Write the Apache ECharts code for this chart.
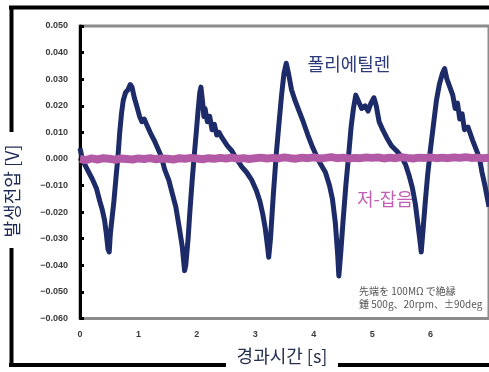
<!DOCTYPE html>
<html><head><meta charset="utf-8">
<script src="https://cdn.jsdelivr.net/npm/echarts@6/dist/echarts.min.js"></script>
<style>html,body{margin:0;padding:0;background:#fff}#c{width:489px;height:372px}</style>
</head><body><div id="c"></div>
<script>
// ---- data ----
const polyTime = [0.00,0.03,0.08,0.15,0.22,0.28,0.34,0.38,0.42,0.45,0.48,0.50,0.52,0.55,0.58,0.62,0.65,0.68,0.71,0.74,0.78,0.82,0.86,0.89,0.93,0.97,1.02,1.06,1.10,1.14,1.20,1.27,1.33,1.39,1.45,1.52,1.58,1.64,1.70,1.75,1.79,1.81,1.85,1.88,1.92,1.95,1.99,2.02,2.05,2.07,2.10,2.12,2.14,2.18,2.22,2.26,2.30,2.34,2.38,2.43,2.52,2.60,2.68,2.77,2.85,2.94,3.02,3.08,3.13,3.17,3.21,3.23,3.26,3.31,3.36,3.40,3.45,3.49,3.53,3.57,3.62,3.68,3.75,3.82,3.90,3.97,4.05,4.12,4.20,4.27,4.32,4.37,4.41,4.43,4.46,4.50,4.55,4.60,4.64,4.68,4.72,4.76,4.82,4.88,4.93,4.98,5.03,5.07,5.12,5.18,5.25,5.33,5.42,5.50,5.57,5.63,5.69,5.74,5.78,5.82,5.84,5.87,5.91,5.95,6.00,6.05,6.10,6.15,6.20,6.24,6.28,6.33,6.38,6.42,6.46,6.50,6.54,6.58,6.64,6.72,6.79,6.84,6.88,6.93,7.00];
const polyValue = [0.004,0.001,-0.002,-0.005,-0.008,-0.011,-0.016,-0.019,-0.023,-0.028,-0.034,-0.035,-0.028,-0.022,-0.016,-0.006,0.001,0.010,0.017,0.022,0.025,0.026,0.028,0.027,0.023,0.020,0.016,0.014,0.015,0.013,0.010,0.007,0.004,0.001,-0.004,-0.008,-0.013,-0.018,-0.026,-0.033,-0.042,-0.040,-0.030,-0.020,-0.008,0.000,0.010,0.018,0.025,0.027,0.021,0.016,0.019,0.014,0.016,0.011,0.013,0.009,0.010,0.008,0.005,0.003,0.000,-0.003,-0.005,-0.008,-0.012,-0.016,-0.021,-0.026,-0.033,-0.037,-0.030,-0.013,0.002,0.012,0.024,0.032,0.036,0.032,0.026,0.022,0.018,0.014,0.009,0.005,0.001,-0.002,-0.005,-0.010,-0.015,-0.024,-0.036,-0.044,-0.036,-0.024,-0.010,0.002,0.012,0.019,0.024,0.022,0.019,0.020,0.018,0.021,0.023,0.020,0.014,0.011,0.008,0.005,0.003,0.001,-0.002,-0.006,-0.011,-0.017,-0.024,-0.031,-0.035,-0.027,-0.016,-0.006,0.004,0.013,0.022,0.028,0.032,0.034,0.030,0.027,0.024,0.019,0.021,0.015,0.017,0.011,0.012,0.007,0.003,0.000,-0.005,-0.010,-0.018,-0.024];

const noiseTime = [0.0,0.1,0.2,0.3,0.4,0.5,0.6,0.7,0.8,0.9,1.0,1.1,1.2,1.3,1.4,1.5,1.6,1.7,1.8,1.9,2.0,2.1,2.2,2.3,2.4,2.5,2.6,2.7,2.8,2.9,3.0,3.1,3.2,3.3,3.4,3.5,3.6,3.7,3.8,3.9,4.0,4.1,4.2,4.3,4.4,4.5,4.6,4.7,4.8,4.9,5.0,5.1,5.2,5.3,5.4,5.5,5.6,5.7,5.8,5.9,6.0,6.1,6.2,6.3,6.4,6.5,6.6,6.7,6.8,6.9,7.0];
const noiseValue = [0.0000,-0.0004,0.0002,-0.0002,0.0003,0.0001,-0.0003,0.0002,0.0000,-0.0002,0.0002,0.0000,0.0003,-0.0001,0.0002,0.0001,-0.0002,0.0003,0.0001,0.0004,0.0002,-0.0001,0.0003,0.0001,0.0004,0.0002,0.0005,0.0001,0.0003,0.0000,0.0003,0.0005,0.0002,0.0004,0.0002,0.0006,0.0003,0.0001,0.0005,0.0003,0.0006,0.0002,0.0004,0.0007,0.0003,0.0005,0.0002,0.0004,0.0003,0.0006,0.0004,0.0006,0.0002,0.0005,0.0003,0.0007,0.0004,0.0002,0.0005,0.0004,0.0006,0.0003,0.0005,0.0003,0.0006,0.0004,0.0007,0.0004,0.0005,0.0003,0.0005];

const xTicks = [1,2,3,4];
const labelPoly = '폴리에틸렌';
const labelNoise = '저-잡음';
const xTitle = '경과시간 [s]';
const yTitle = '발생전압 [V]';
const note1 = '先端を 100MΩ で絶縁';
const note2 = '錘 500g、20rpm、±90deg';

// ---- chart ----
const chart = echarts.init(document.getElementById('c'));
const zip = (a,b) => a.map((t,i)=>[t,b[i]]);
const kr = '"Noto Sans CJK KR", sans-serif';
chart.setOption({
  animation: false,
  backgroundColor: '#fff',
  grid: {left: 80, top: 26, width: 411.6, height: 292.5, show: true, borderColor: '#8c8c8c', borderWidth: 3},
  xAxis: {
    type: 'value', min: 0, max: 7, interval: 1,
    axisLine: {lineStyle: {color: '#000', width: 3}},
    axisTick: {inside: true, length: 4, lineStyle: {color: '#000', width: 3}, customValues: xTicks},
    axisLabel: {margin: 12, fontSize: 9, fontWeight: 'bold', color: '#3a3a3a', fontFamily: 'Liberation Sans', showMaxLabel: false},
    splitLine: {show: false}
  },
  yAxis: {
    type: 'value', min: -0.06, max: 0.05, interval: 0.01,
    axisLine: {lineStyle: {color: '#000', width: 3}},
    axisTick: {inside: true, length: 4, lineStyle: {color: '#000', width: 3}},
    axisLabel: {margin: 12, fontSize: 9, fontWeight: 'bold', color: '#3a3a3a', fontFamily: 'Liberation Sans',
      formatter: v => (v < -1e-9 ? '\u2212' : '') + Math.abs(v).toFixed(3)},
    splitLine: {show: false}
  },
  series: [
    {type: 'line', data: zip(polyTime, polyValue), showSymbol: false, lineStyle: {color: '#1d2b68', width: 5, join: 'round'}, z: 2},
    {type: 'line', data: zip(noiseTime, noiseValue), showSymbol: false, lineStyle: {color: '#b25aa6', width: 8}, z: 3}
  ],
  graphic: [
    {type: 'line', shape: {x1: 9, y1: 7.5, x2: 489, y2: 7.5}, style: {stroke: '#000', lineWidth: 4}},
    {type: 'line', shape: {x1: 11.5, y1: 6, x2: 11.5, y2: 132}, style: {stroke: '#000', lineWidth: 4}},
    {type: 'line', shape: {x1: 11.5, y1: 248, x2: 11.5, y2: 367}, style: {stroke: '#000', lineWidth: 4}},
    {type: 'line', shape: {x1: 9, y1: 365, x2: 226, y2: 365}, style: {stroke: '#000', lineWidth: 4}},
    {type: 'line', shape: {x1: 338, y1: 365, x2: 489, y2: 365}, style: {stroke: '#000', lineWidth: 4}},
    {type: 'text', x: 282, y: 356, style: {text: xTitle, fill: '#25304f', font: '18px ' + kr, align: 'center', verticalAlign: 'middle'}},
    {type: 'text', x: 12, y: 191, rotation: Math.PI/2, style: {text: yTitle, fill: '#1f2a55', font: '18px ' + kr, align: 'center', verticalAlign: 'middle'}},
    {type: 'text', x: 349, y: 64, style: {text: labelPoly, fill: '#2c3a78', font: '18px ' + kr, align: 'center', verticalAlign: 'middle'}},
    {type: 'text', x: 385, y: 199, style: {text: labelNoise, fill: '#c05fb4', font: '18px ' + kr, align: 'center', verticalAlign: 'middle'}},
    {type: 'text', x: 359, y: 291, style: {text: note1, fill: '#555', font: '10px "Noto Sans CJK JP"', align: 'left', verticalAlign: 'middle'}},
    {type: 'text', x: 359, y: 304, style: {text: note2, fill: '#555', font: '10px "Noto Sans CJK JP"', align: 'left', verticalAlign: 'middle'}}
  ]
});
</script></body></html>
